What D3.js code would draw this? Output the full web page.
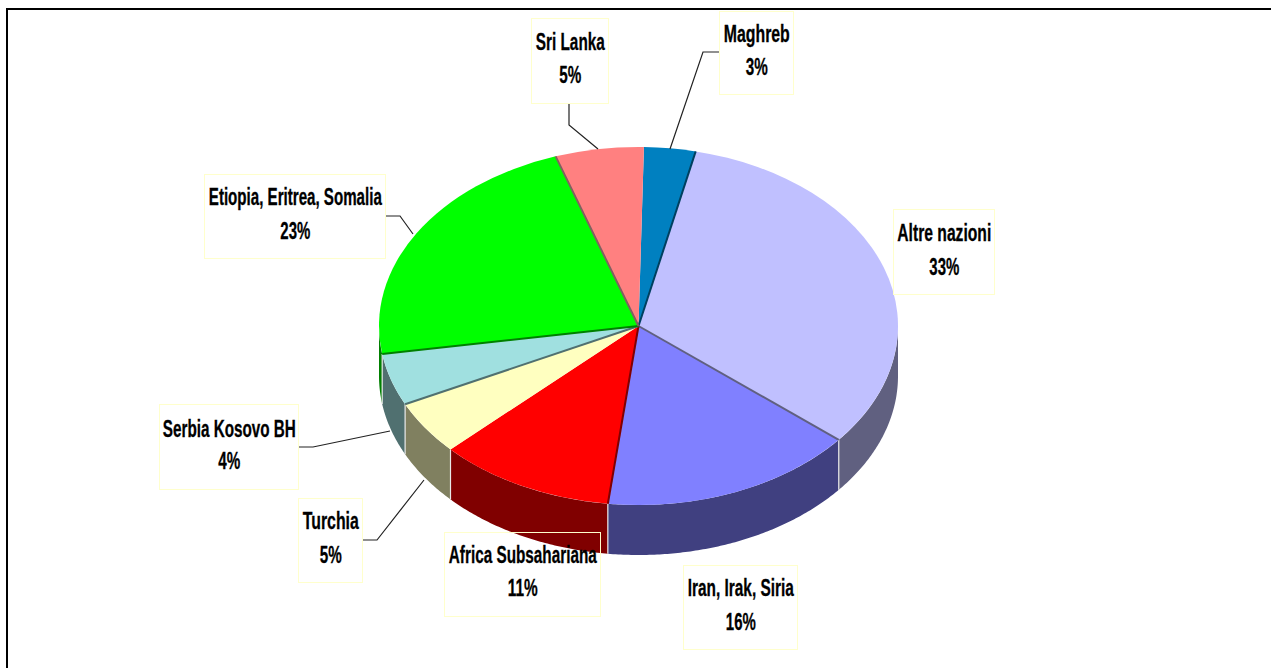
<!DOCTYPE html>
<html>
<head>
<meta charset="utf-8">
<script src="https://cdn.jsdelivr.net/npm/d3@7"></script>
<style>
    html, body { margin: 0; padding: 0; background: #fff; }
    svg { display: block; }
    text { font-family: "Liberation Sans", Arial, sans-serif; font-weight: bold; font-size: 23px; fill: #000; stroke: #000; stroke-width: 0.3px; }
</style>
</head>
<body>
<svg id="chart"></svg>
<script>
// slices, clockwise from the top
const categories = ["Maghreb", "Altre nazioni", "Iran, Irak, Siria", "Africa Subsahariana", "Turchia", "Serbia Kosovo BH", "Etiopia, Eritrea, Somalia", "Sri Lanka"];
const values = [3.2, 32.4, 15.9, 11.0, 4.9, 4.7, 22.3, 5.5];
const percentLabels = ["3%", "33%", "16%", "11%", "5%", "4%", "23%", "5%"];

const topColors = ["#0080c0", "#c0c0ff", "#8080ff", "#ff0000", "#ffffc0", "#a0e0e0", "#00ff00", "#ff8080"];
const wallColors = ["#004060", "#606080", "#404080", "#800000", "#808060", "#507070", "#008000", "#806060"];

// label boxes: x0, y0, x1, y1, first baseline, second baseline, text width, percent width
const labelBoxes = [
    [719, 11, 793, 94, 42, 75, 66, 22],
    [893, 209, 994, 294, 241, 275, 94, 30],
    [683, 565, 797, 649, 596, 630, 106, 30],
    [444, 532, 600, 616, 563, 596, 148, 30],
    [298, 498, 362, 582, 529, 563, 56, 22],
    [159, 404, 298, 489, 437, 469, 133, 22],
    [204, 174, 385, 258, 205, 239, 173, 30],
    [531, 18, 608, 103, 50, 83, 69, 22]
];

// leader lines, null where the label has none
const leaders = [
    [[719, 52], [703, 52], [670, 149]],
    null,
    null,
    null,
    [[362, 540], [377, 540], [424, 480]],
    [[298, 447], [313, 447], [390, 431]],
    [[385, 216], [400, 216], [413, 234]],
    [[569, 103], [569, 125], [598, 149]]
];

const width = 1271, height = 668;
const cx = 638.5, cy = 326, rx = 259.5, ry = 179, depth = 50;

const svg = d3.select("#chart").attr("width", width).attr("height", height);

// unit circle -> tilted ellipse
const xScale = d3.scaleLinear().domain([-1, 1]).range([cx - rx, cx + rx]);
const yScale = d3.scaleLinear().domain([-1, 1]).range([cy - ry, cy + ry]);
const px = a => xScale(Math.sin(a));
const py = a => yScale(-Math.cos(a));

const startAngle = 1.2 * Math.PI / 180;
const pieData = d3.pie().sort(null).startAngle(startAngle).endAngle(startAngle + 2 * Math.PI)(values);

// side walls, only the front half of the ellipse shows
const walls = svg.append("g");
const line = d3.line();
pieData.forEach((d, i) => {
    const a0 = Math.max(d.startAngle, Math.PI / 2);
    const a1 = Math.min(d.endAngle, 3 * Math.PI / 2);
    if (a1 <= a0) return;
    const steps = d3.range(a0, a1, 0.01).concat([a1]);
    const upper = steps.map(a => [px(a), py(a)]);
    const lower = steps.slice().reverse().map(a => [px(a), py(a) + depth]);
    walls.append("path")
        .attr("d", line(upper.concat(lower)) + "Z")
        .attr("fill", wallColors[i]);
    // light seam between two walls
    if (d.startAngle >= Math.PI / 2) {
        walls.append("line")
            .attr("x1", px(a0)).attr("y1", py(a0))
            .attr("x2", px(a0)).attr("y2", py(a0) + depth)
            .attr("stroke", "#e8e8e8").attr("stroke-width", 1.2);
    }
});

// top face
const arc = d3.arc().innerRadius(0).outerRadius(ry);
svg.append("g")
    .attr("transform", `translate(${cx},${cy}) scale(${rx / ry},1)`)
    .selectAll("path")
    .data(pieData)
    .join("path")
    .attr("d", arc)
    .attr("fill", (d, i) => topColors[i]);

// dark rims along the slice cuts
const rims = [
    [pieData[0].endAngle, wallColors[0]],
    [pieData[1].endAngle, wallColors[1]],
    [pieData[3].startAngle, wallColors[3]],
    [pieData[5].startAngle, wallColors[5]],
    [pieData[6].startAngle, wallColors[6]],
    [pieData[7].startAngle, wallColors[7]]
];
svg.append("g")
    .selectAll("line")
    .data(rims)
    .join("line")
    .attr("x1", cx).attr("y1", cy)
    .attr("x2", d => px(d[0])).attr("y2", d => py(d[0]))
    .attr("stroke", d => d[1])
    .attr("stroke-width", 2);

// labels
categories.forEach((name, i) => {
    const [x0, y0, x1, y1, b1, b2, w1, w2] = labelBoxes[i];
    const mid = (x0 + x1) / 2 + 0.8;
    const g = svg.append("g");
    if (leaders[i]) {
        g.append("path")
            .attr("d", line(leaders[i]))
            .attr("fill", "none")
            .attr("stroke", "#222")
            .attr("stroke-width", 1.2);
    }
    g.append("rect")
        .attr("x", x0 + 0.5).attr("y", y0 + 0.5)
        .attr("width", x1 - x0).attr("height", y1 - y0)
        .attr("fill", "none")
        .attr("stroke", "#ffffcc");
    g.append("text")
        .attr("x", mid).attr("y", b1)
        .attr("text-anchor", "middle")
        .attr("textLength", w1)
        .attr("lengthAdjust", "spacingAndGlyphs")
        .text(name);
    g.append("text")
        .attr("x", mid).attr("y", b2)
        .attr("text-anchor", "middle")
        .attr("textLength", w2)
        .attr("lengthAdjust", "spacingAndGlyphs")
        .text(percentLabels[i]);
});

// chart frame
svg.append("path")
    .attr("d", line([[7, height], [7, 9], [width, 9]]))
    .attr("fill", "none")
    .attr("stroke", "#000")
    .attr("stroke-width", 2);
</script>
</body>
</html>
